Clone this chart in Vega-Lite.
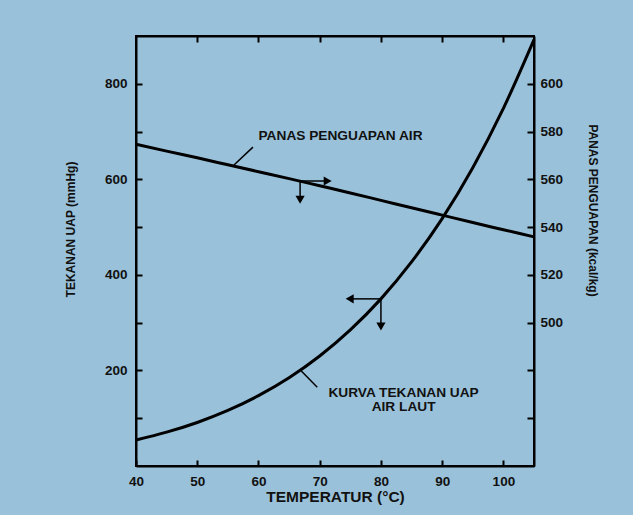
{
  "$schema": "https://vega.github.io/schema/vega-lite/v6.json",
  "width": 398,
  "height": 430,
  "autosize": {"type": "none"},
  "padding": {"left": 136, "top": 36, "right": 99, "bottom": 49},
  "background": "#9ac1da",
  "config": {
    "view": {"stroke": "#000", "strokeWidth": 2},
    "axis": {
      "grid": false,
      "domainColor": "#000",
      "domainWidth": 2,
      "tickColor": "#000",
      "tickWidth": 2,
      "labelColor": "#111",
      "titleColor": "#111",
      "labelFont": "Liberation Sans",
      "titleFont": "Liberation Sans",
      "labelFontWeight": "bold",
      "labelFontSize": 13.5,
      "labelFlush": false
    },
    "text": {"font": "Liberation Sans"}
  },
  "datasets": {
    "vapor": [
      {"T": 40, "v": 54.5}, {"T": 45, "v": 70.8}, {"T": 50, "v": 91.1}, {"T": 55, "v": 116.2},
      {"T": 60, "v": 147.2}, {"T": 65, "v": 184.7}, {"T": 70, "v": 230.2}, {"T": 75, "v": 284.8},
      {"T": 80, "v": 349.8}, {"T": 85, "v": 427.1}, {"T": 90, "v": 517.9}, {"T": 95, "v": 624.4},
      {"T": 100, "v": 748.6}, {"T": 105, "v": 892.5}
    ],
    "latent": [
      {"T": 40, "v": 574.7}, {"T": 45, "v": 571.8}, {"T": 50, "v": 569.0}, {"T": 55, "v": 566.1},
      {"T": 60, "v": 563.2}, {"T": 65, "v": 560.3}, {"T": 70, "v": 557.3}, {"T": 75, "v": 554.3},
      {"T": 80, "v": 551.2}, {"T": 85, "v": 548.1}, {"T": 90, "v": 545.0}, {"T": 95, "v": 541.9},
      {"T": 100, "v": 538.9}, {"T": 105, "v": 535.9}
    ],
    "vaporSegments": [
      {"part": "leader", "T": 67.0, "v": 199, "T2": 69.6, "v2": 165},
      {"part": "arrow", "T": 80.0, "v": 349.8, "T2": 74.8, "v2": 349.8},
      {"part": "arrow", "T": 80.0, "v": 349.8, "T2": 80.0, "v2": 296}
    ],
    "vaporHeads": [
      {"dir": "left", "T": 74.9, "v": 349.8},
      {"dir": "down", "T": 80.0, "v": 292}
    ],
    "vaporLabels": [
      {"T": 83.7, "v": 152.8, "label": "KURVA TEKANAN UAP"},
      {"T": 83.7, "v": 123.5, "label": "AIR LAUT"}
    ],
    "latentSegments": [
      {"part": "leader", "T": 56.0, "v": 566.0, "T2": 59.1, "v2": 573.5},
      {"part": "arrow", "T": 66.8, "v": 559.3, "T2": 71.2, "v2": 559.3},
      {"part": "arrow", "T": 66.8, "v": 559.3, "T2": 66.8, "v2": 552.5}
    ],
    "latentHeads": [
      {"dir": "right", "T": 71.3, "v": 559.3},
      {"dir": "down", "T": 66.8, "v": 551.5}
    ],
    "latentLabels": [
      {"T": 73.4, "v": 578.3, "label": "PANAS PENGUAPAN AIR"}
    ]
  },
  "layer": [
    {
      "encoding": {
        "x": {
          "field": "T", "type": "quantitative",
          "scale": {"domain": [40, 105], "nice": false, "zero": false},
          "axis": {
            "orient": "bottom",
            "values": [40, 50, 60, 70, 80, 90, 100],
            "tickSize": -6,
            "labelPadding": 14,
            "title": "TEMPERATUR (°C)",
            "titleFontSize": 15.5,
            "titleFontWeight": "bold",
            "titleX": 199,
            "titleY": 30,
            "titleBaseline": "middle"
          }
        },
        "y": {
          "field": "v", "type": "quantitative",
          "scale": {"domain": [0, 900], "nice": false, "zero": false},
          "axis": {
            "orient": "left",
            "values": [100, 200, 300, 400, 500, 600, 700, 800],
            "labelExpr": "datum.value % 200 == 0 ? datum.label : ''",
            "tickSize": -6,
            "labelPadding": 15,
            "title": "TEKANAN UAP (mmHg)",
            "titleFontSize": 12,
            "titleFontWeight": "bold",
            "titleAngle": -90,
            "titleBaseline": "middle",
            "titleX": -66,
            "titleY": 193
          }
        }
      },
      "layer": [
        {
          "data": {"name": "vapor"},
          "mark": {"type": "line", "color": "#000", "strokeWidth": 3, "interpolate": "monotone"}
        },
        {
          "data": {"name": "vaporSegments"},
          "mark": {"type": "rule", "color": "#000", "strokeWidth": 1.5},
          "encoding": {"x2": {"field": "T2"}, "y2": {"field": "v2"}}
        },
        {
          "data": {"name": "vaporHeads"},
          "mark": {"type": "point", "filled": true, "color": "#000", "opacity": 1, "size": 85},
          "encoding": {
            "shape": {"field": "dir", "type": "nominal", "legend": null,
              "scale": {"domain": ["left", "right", "down"], "range": ["triangle-left", "triangle-right", "triangle-down"]}}
          }
        },
        {
          "data": {"name": "vaporLabels"},
          "mark": {"type": "text", "fontSize": 13.7, "fontWeight": "bold", "color": "#111", "align": "center", "baseline": "middle"},
          "encoding": {"text": {"field": "label"}}
        }
      ]
    },
    {
      "encoding": {
        "x": {
          "field": "T", "type": "quantitative",
          "scale": {"domain": [40, 105], "nice": false, "zero": false},
          "axis": {
            "orient": "top",
            "values": [50, 60, 70, 80, 90, 100],
            "tickSize": -6,
            "labels": false,
            "title": null
          }
        },
        "y": {
          "field": "v", "type": "quantitative",
          "scale": {"domain": [440, 620], "nice": false, "zero": false},
          "axis": {
            "orient": "right",
            "values": [460, 480, 500, 520, 540, 560, 580, 600],
            "labelExpr": "datum.value >= 500 ? datum.label : ''",
            "tickSize": -7,
            "labelPadding": 13,
            "title": "PANAS PENGUAPAN (kcal/kg)",
            "titleFontSize": 12,
            "titleFontWeight": "bold",
            "titleAngle": 90,
            "titleBaseline": "middle",
            "titleX": 58,
            "titleY": 174
          }
        }
      },
      "layer": [
        {
          "data": {"name": "latent"},
          "mark": {"type": "line", "color": "#000", "strokeWidth": 3, "interpolate": "monotone"}
        },
        {
          "data": {"name": "latentSegments"},
          "mark": {"type": "rule", "color": "#000", "strokeWidth": 1.5},
          "encoding": {"x2": {"field": "T2"}, "y2": {"field": "v2"}}
        },
        {
          "data": {"name": "latentHeads"},
          "mark": {"type": "point", "filled": true, "color": "#000", "opacity": 1, "size": 85},
          "encoding": {
            "shape": {"field": "dir", "type": "nominal", "legend": null,
              "scale": {"domain": ["left", "right", "down"], "range": ["triangle-left", "triangle-right", "triangle-down"]}}
          }
        },
        {
          "data": {"name": "latentLabels"},
          "mark": {"type": "text", "fontSize": 13.7, "fontWeight": "bold", "color": "#111", "align": "center", "baseline": "middle"},
          "encoding": {"text": {"field": "label"}}
        }
      ]
    }
  ],
  "resolve": {"scale": {"y": "independent", "shape": "shared"}, "axis": {"x": "independent"}}
}
